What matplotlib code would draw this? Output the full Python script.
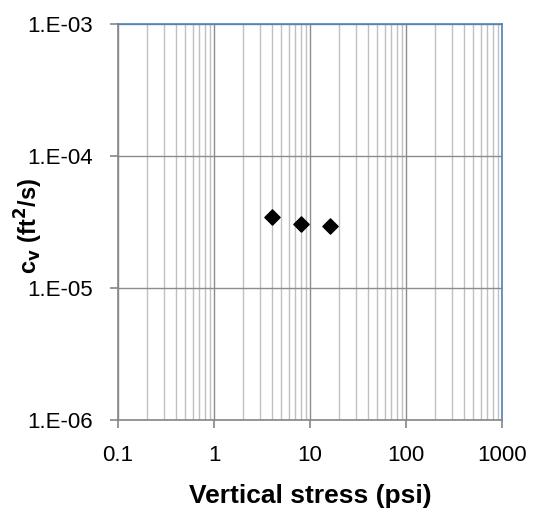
import matplotlib
matplotlib.use("Agg")
import matplotlib.pyplot as plt
import matplotlib.ticker as mticker
import numpy as np

# data
stress = [4, 8, 16]
cv = [3.45e-5, 3.05e-5, 2.95e-5]

x_ticks = [0.1, 1, 10, 100, 1000]
x_labels = ['0.1', '1', '10', '100', '1000']
y_ticks = [1e-6, 1e-5, 1e-4, 1e-3]
y_labels = ['1.E-06', '1.E-05', '1.E-04', '1.E-03']

plt.rcParams['font.family'] = ['Liberation Sans', 'DejaVu Sans']

fig = plt.figure(figsize=(5.39, 5.18), dpi=100)
ax = fig.add_axes([118 / 539, 1 - 420 / 518, (502 - 118) / 539, (420 - 24) / 518])

ax.set_xscale('log')
ax.set_yscale('log')
ax.set_xlim(0.1, 1000)
ax.set_ylim(1e-6, 1e-3)

ax.set_xticks(x_ticks)
ax.set_xticklabels(x_labels)
ax.set_yticks(y_ticks)
ax.set_yticklabels(y_labels)
ax.xaxis.set_minor_locator(mticker.LogLocator(base=10, subs=np.arange(2, 10)))
ax.xaxis.set_minor_formatter(mticker.NullFormatter())
ax.yaxis.set_minor_locator(mticker.NullLocator())

ax.grid(True, which='major', axis='both', color='#8c8c8c', linewidth=1.0)
ax.grid(True, which='minor', axis='x', color='#c0c0c0', linewidth=1.0)
ax.set_axisbelow(True)

ax.scatter(stress, cv, marker='D', s=60, color='black', zorder=3)

for s in ['left', 'bottom']:
    ax.spines[s].set_color('#868686')
    ax.spines[s].set_linewidth(1.2)
for s in ['top', 'right']:
    ax.spines[s].set_color('#4f81bd')
    ax.spines[s].set_linewidth(1.2)

ax.tick_params(which='major', direction='out', length=6, width=1.2, color='#868686',
               labelsize=16, pad=12)
ax.tick_params(which='minor', length=0)

ax.set_xlabel('Vertical stress (psi)', fontsize=19, fontweight='bold', labelpad=13)
ax.set_ylabel(r'c$_\mathbf{v}$ (ft$^\mathbf{2}$/s)', fontsize=17, fontweight='bold')
ax.yaxis.set_label_coords(-0.19, 0.49)

fig.savefig('out.png', dpi=100)
